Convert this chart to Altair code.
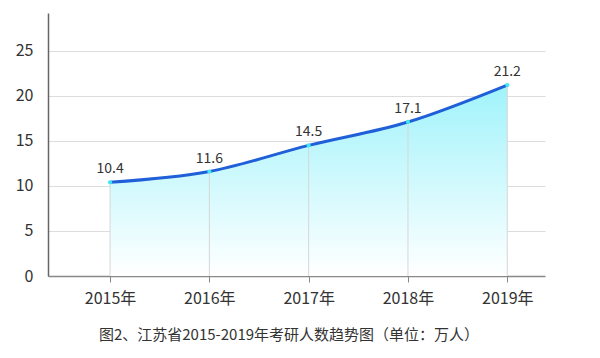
import altair as alt
import pandas as pd

years = [2015, 2016, 2017, 2018, 2019]
values = [10.4, 11.6, 14.5, 17.1, 21.2]
labels = ["10.4", "11.6", "14.5", "17.1", "21.2"]
y_ticks = [0, 5, 10, 15, 20, 25]
title_text = "图2、江苏省2015-2019年考研人数趋势图（单位：万人）"

df = pd.DataFrame({"year": years, "value": values, "label": labels})

FONT = "Noto Sans CJK SC"

x = alt.X("year:Q", scale=alt.Scale(domain=[2014.375, 2019.38], nice=False, zero=False),
          axis=alt.Axis(values=years, labelExpr="datum.value + '年'", title=None, grid=False,
                        domainColor="#888", domainWidth=1.5, tickColor="#888", tickSize=6,
                        labelPadding=8, labelFontSize=16, labelColor="#333", labelFont=FONT))
y = alt.Y("value:Q", scale=alt.Scale(domain=[0, 29.2], nice=False),
          axis=alt.Axis(values=y_ticks, title=None, grid=True, gridColor="#dddddd",
                        domainColor="#666", domainWidth=1.5, ticks=False, labelPadding=15,
                        labelFontSize=16, labelColor="#333", labelFont=FONT))

base = alt.Chart(df)

area = base.mark_area(
    interpolate="monotone",
    color=alt.Gradient(
        gradient="linear",
        stops=[alt.GradientStop(color="#a0f3fb", offset=0),
               alt.GradientStop(color="#ffffff", offset=1)],
        x1=0, x2=0, y1=0, y2=1,
    ),
).encode(x=x, y=y)

drops = base.mark_rule(color="#d6d6d6", strokeWidth=1).encode(
    x="year:Q", y=alt.Y("value:Q"), y2=alt.datum(0))

line = base.mark_line(interpolate="monotone", color="#1f5fd8", strokeWidth=3).encode(
    x="year:Q", y="value:Q")

pts = base.mark_point(filled=True, color="#40e6f2", size=18, opacity=1).encode(
    x="year:Q", y="value:Q")

text = base.mark_text(dy=-13, fontSize=14, color="#333", font=FONT).encode(
    x="year:Q", y="value:Q", text="label:N")

title = alt.Chart(pd.DataFrame({"t": [title_text]})).mark_text(
    fontSize=15, color="#333", font=FONT, align="center", baseline="middle"
).encode(x=alt.value(241), y=alt.value(322), text="t:N")

chart = alt.layer(area, drops, line, pts, text, title).properties(
    width=497, height=263,
    autosize=alt.AutoSizeParams(type="none"),
    padding={"left": 40, "top": 5, "right": 30, "bottom": 70},
).configure_view(stroke=None)

chart.save("out.html", embed_options={"renderer": "svg", "actions": False})
